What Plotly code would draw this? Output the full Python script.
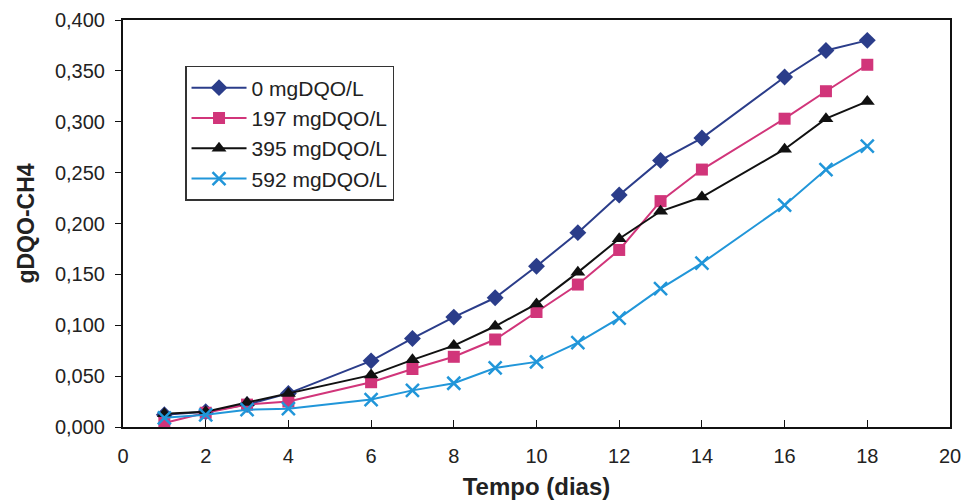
import plotly.graph_objects as go

days = [1, 2, 3, 4, 6, 7, 8, 9, 10, 11, 12, 13, 14, 16, 17, 18]
s0 = [0.012, 0.015, 0.022, 0.033, 0.065, 0.087, 0.108, 0.127, 0.158, 0.191, 0.228, 0.262, 0.284, 0.344, 0.370, 0.380]
s197 = [0.004, 0.014, 0.022, 0.025, 0.044, 0.057, 0.069, 0.086, 0.113, 0.140, 0.174, 0.222, 0.253, 0.303, 0.330, 0.356]
s395 = [0.013, 0.015, 0.024, 0.033, 0.051, 0.066, 0.080, 0.099, 0.121, 0.152, 0.185, 0.212, 0.226, 0.273, 0.303, 0.320]
s592 = [0.009, 0.012, 0.017, 0.018, 0.027, 0.036, 0.043, 0.058, 0.064, 0.083, 0.107, 0.136, 0.161, 0.218, 0.253, 0.276]
names = ["0 mgDQO/L", "197 mgDQO/L", "395 mgDQO/L", "592 mgDQO/L"]
colors = ["#2B3D8A", "#D1357A", "#111111", "#2196D9"]
symbols = ["diamond", "square", "triangle-up", "x-thin"]
sizes = [13, 12, 13, 13]

fig = go.Figure()
for ys, nm, c, sym, sz in zip([s0, s197, s395, s592], names, colors, symbols, sizes):
    marker = dict(symbol=sym, size=sz, color=c)
    if sym == "x-thin":
        marker["line"] = dict(color=c, width=2.5)
    fig.add_trace(go.Scatter(x=days, y=ys, name=nm, mode="lines+markers",
                             line=dict(color=c, width=2), marker=marker))

fig.update_layout(
    width=965, height=500,
    margin=dict(l=123, r=15, t=20, b=73),
    paper_bgcolor="white", plot_bgcolor="white",
    separators=",.",
    font=dict(family="Liberation Sans, Arial", size=20, color="#222"),
    legend=dict(x=0.075, y=0.887, xanchor="left", yanchor="top",
                bordercolor="#333", borderwidth=1.5, bgcolor="white",
                font=dict(size=21), tracegroupgap=0, itemwidth=55),
    xaxis=dict(range=[0, 20], dtick=2, tick0=0, showgrid=False, zeroline=False,
               showline=True, linecolor="#111", linewidth=2, mirror=True,
               ticks="inside", ticklen=7, tickcolor="#111", ticklabelstandoff=10,
               automargin=False,
               title=dict(text="<b>Tempo (dias)</b>", font=dict(size=24), standoff=12)),
    yaxis=dict(range=[0, 0.4], dtick=0.05, tickformat=".3f", showgrid=False, zeroline=False,
               showline=True, linecolor="#111", linewidth=2, mirror=True,
               ticks="outside", ticklen=6, tickcolor="#111", ticklabelstandoff=6,
               automargin=False,
               title=dict(text="<b>gDQO-CH4</b>", font=dict(size=23), standoff=14)),
)
fig.write_html("out.html")
